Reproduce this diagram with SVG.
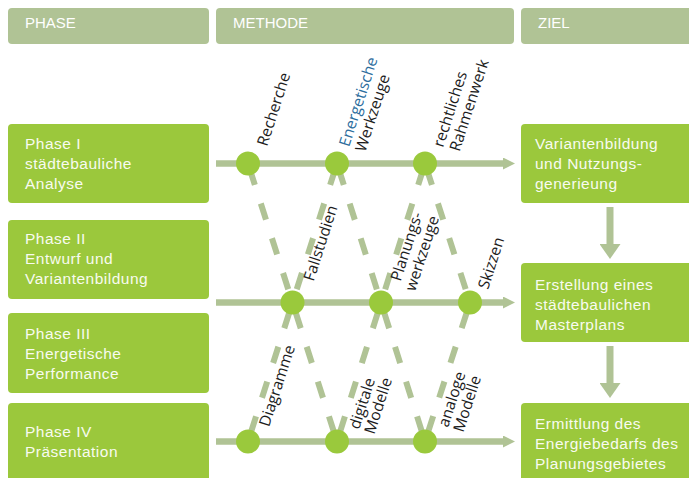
<svg xmlns="http://www.w3.org/2000/svg" width="689" height="478" viewBox="0 0 689 478">
  <defs>
    <style>
      .hdr { fill: #b0c395; }
      .box { fill: #9bc83c; }
      .hdrtxt { font-family: "Liberation Sans", Arial, sans-serif; font-size: 15px; fill: #ffffff; }
      .boxtxt { font-family: "Liberation Sans", Arial, sans-serif; font-size: 15.5px; letter-spacing: 0.5px; fill: #f8fbf0; }
      .lbl { font-family: "Open Sans", "Noto Sans", sans-serif; font-size: 15.5px; fill: #1c1c1c; }
      .blue { fill: #2c6d9d; }
      .dot { fill: #9ac93c; }
      .hline { stroke: #b0c395; stroke-width: 6.5; fill: none; }
      .vline { stroke: #b0c395; stroke-width: 7; fill: none; }
      .dash { stroke: #b0c395; stroke-width: 6; fill: none; stroke-dasharray: 17 19.5; }
      .d1 { stroke-dashoffset: -5.5; }
      .d2 { stroke-dashoffset: -10; }
    </style>
    <marker id="ah" markerUnits="userSpaceOnUse" markerWidth="12" markerHeight="12" refX="0" refY="6" orient="auto">
      <path d="M0,0 L12,6 L0,12 z" fill="#b0c395"/>
    </marker>
    <marker id="av" markerUnits="userSpaceOnUse" markerWidth="15" markerHeight="21" refX="0" refY="10.5" orient="auto">
      <path d="M0,0 L15,10.5 L0,21 z" fill="#b0c395"/>
    </marker>
  </defs>

  <!-- headers -->
  <g id="hdr-phase">
    <rect class="hdr" x="8" y="8" width="201" height="36" rx="4"/>
    <text class="hdrtxt" x="25" y="28">PHASE</text>
  </g>
  <g id="hdr-methode">
    <rect class="hdr" x="216" y="8" width="298" height="36" rx="4"/>
    <text class="hdrtxt" x="233" y="28">METHODE</text>
  </g>
  <g id="hdr-ziel">
    <rect class="hdr" x="521" y="8" width="180" height="36" rx="4"/>
    <text class="hdrtxt" x="538" y="28">ZIEL</text>
  </g>

  <!-- phases -->
  <g id="phase1">
    <rect class="box" x="8" y="124" width="201" height="79" rx="4"/>
    <text class="boxtxt"><tspan x="25" y="149">Phase I</tspan><tspan x="25" y="169">städtebauliche</tspan><tspan x="25" y="189">Analyse</tspan></text>
  </g>
  <g id="phase2">
    <rect class="box" x="8" y="220" width="201" height="79" rx="4"/>
    <text class="boxtxt"><tspan x="25" y="243.5">Phase II</tspan><tspan x="25" y="263.5">Entwurf und</tspan><tspan x="25" y="283.5">Variantenbildung</tspan></text>
  </g>
  <g id="phase3">
    <rect class="box" x="8" y="313" width="201" height="80" rx="4"/>
    <text class="boxtxt"><tspan x="25" y="338.5">Phase III</tspan><tspan x="25" y="358.5">Energetische</tspan><tspan x="25" y="378.5">Performance</tspan></text>
  </g>
  <g id="phase4">
    <rect class="box" x="8" y="403" width="201" height="90" rx="4"/>
    <text class="boxtxt"><tspan x="25" y="437">Phase IV</tspan><tspan x="25" y="457">Präsentation</tspan></text>
  </g>

  <!-- goals -->
  <g id="ziel1">
    <rect class="box" x="521" y="124" width="180" height="79" rx="4"/>
    <text class="boxtxt"><tspan x="535" y="149">Variantenbildung</tspan><tspan x="535" y="169">und Nutzungs-</tspan><tspan x="535" y="189">generieung</tspan></text>
  </g>
  <g id="ziel2">
    <rect class="box" x="521" y="263" width="180" height="79" rx="4"/>
    <text class="boxtxt"><tspan x="535" y="289.5">Erstellung eines</tspan><tspan x="535" y="309.5">städtebaulichen</tspan><tspan x="535" y="329.5">Masterplans</tspan></text>
  </g>
  <g id="ziel3">
    <rect class="box" x="521" y="403" width="180" height="90" rx="4"/>
    <text class="boxtxt"><tspan x="535" y="428.5">Ermittlung des</tspan><tspan x="535" y="448.5">Energiebedarfs des</tspan><tspan x="535" y="468.5">Planungsgebietes</tspan></text>
  </g>

  <!-- connectors -->
  <g id="connectors">
    <line class="hline" x1="216" y1="163.5" x2="503" y2="163.5" marker-end="url(#ah)"/>
    <line class="hline" x1="216" y1="302.5" x2="503" y2="302.5" marker-end="url(#ah)"/>
    <line class="hline" x1="216" y1="441.5" x2="503" y2="441.5" marker-end="url(#ah)"/>

    <line class="vline" x1="610" y1="207" x2="610" y2="244" marker-end="url(#av)"/>
    <line class="vline" x1="610" y1="346" x2="610" y2="383" marker-end="url(#av)"/>

    <line class="dash d1" x1="248" y1="163.5" x2="292.5" y2="302.5"/>
    <line class="dash d1" x1="337" y1="163.5" x2="292.5" y2="302.5"/>
    <line class="dash d1" x1="337" y1="163.5" x2="381" y2="302.5"/>
    <line class="dash d1" x1="425" y1="163.5" x2="381" y2="302.5"/>
    <line class="dash d1" x1="425" y1="163.5" x2="470" y2="302.5"/>

    <line class="dash d2" x1="292.5" y1="302.5" x2="248" y2="441.5"/>
    <line class="dash d2" x1="292.5" y1="302.5" x2="337" y2="441.5"/>
    <line class="dash d2" x1="381" y1="302.5" x2="337" y2="441.5"/>
    <line class="dash d2" x1="381" y1="302.5" x2="425" y2="441.5"/>
    <line class="dash d2" x1="470" y1="302.5" x2="425" y2="441.5"/>
  </g>

  <!-- method nodes -->
  <g id="m-recherche">
    <circle class="dot" cx="248" cy="163.5" r="12"/>
    <text class="lbl" transform="translate(267,147) rotate(-72)">Recherche</text>
  </g>
  <g id="m-energetische-werkzeuge">
    <circle class="dot" cx="337" cy="163.5" r="12"/>
    <text class="lbl" transform="translate(349,147.5) rotate(-72)"><tspan class="blue" x="0" y="0">Energetische</tspan><tspan x="0" y="17">Werkzeuge</tspan></text>
  </g>
  <g id="m-rechtliches-rahmenwerk">
    <circle class="dot" cx="425" cy="163.5" r="12"/>
    <text class="lbl" transform="translate(443,148) rotate(-72)"><tspan x="0" y="0">rechtliches</tspan><tspan x="1" y="17">Rahmenwerk</tspan></text>
  </g>
  <g id="m-fallstudien">
    <circle class="dot" cx="292.5" cy="302.5" r="12"/>
    <text class="lbl" transform="translate(313.5,282) rotate(-72)">Fallstudien</text>
  </g>
  <g id="m-planungswerkzeuge">
    <circle class="dot" cx="381" cy="302.5" r="12"/>
    <text class="lbl" transform="translate(400.5,282) rotate(-72)"><tspan x="0" y="0">Planungs-</tspan><tspan x="-5" y="17">werkzeuge</tspan></text>
  </g>
  <g id="m-skizzen">
    <circle class="dot" cx="470" cy="302.5" r="12"/>
    <text class="lbl" transform="translate(488,290) rotate(-72)">Skizzen</text>
  </g>
  <g id="m-diagramme">
    <circle class="dot" cx="248" cy="441.5" r="12"/>
    <text class="lbl" transform="translate(269,427.5) rotate(-72)">Diagramme</text>
  </g>
  <g id="m-digitale-modelle">
    <circle class="dot" cx="337" cy="441.5" r="12"/>
    <text class="lbl" transform="translate(359,430) rotate(-72)"><tspan x="0" y="0">digitale</tspan><tspan x="0" y="16">Modelle</tspan></text>
  </g>
  <g id="m-analoge-modelle">
    <circle class="dot" cx="425" cy="441.5" r="12"/>
    <text class="lbl" transform="translate(448,428) rotate(-72)"><tspan x="0" y="0">analoge</tspan><tspan x="0" y="16">Modelle</tspan></text>
  </g>
</svg>
